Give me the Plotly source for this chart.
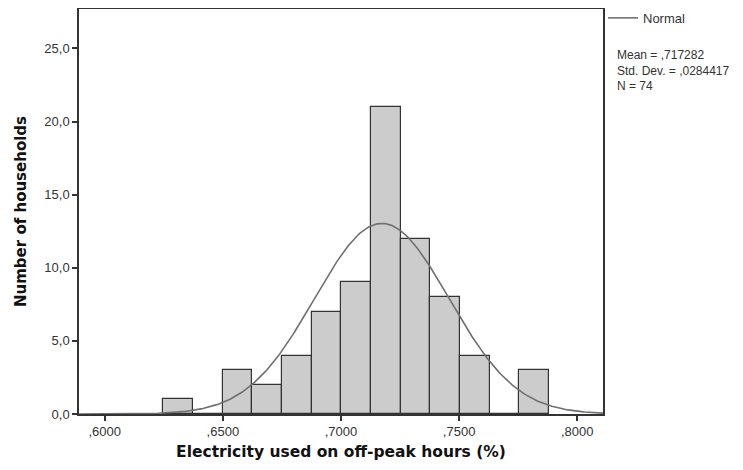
import numpy as np
import plotly.graph_objects as go

# Histogram data
bin_start = 0.6248
bin_width = 0.01256
counts = [1, 0, 3, 2, 4, 7, 9, 21, 12, 8, 4, 0, 3]

# Normal fit parameters (as printed)
mean = 0.717282
std_dev = 0.0284417
n_obs = 74

x_tick_vals = [0.60, 0.65, 0.70, 0.75, 0.80]
y_tick_vals = [0, 5, 10, 15, 20, 25]
x_range = [0.5891, 0.8109]
y_range = [0, 27.7]

x_tick_text = ["," + f"{v:.4f}".split(".")[1] for v in x_tick_vals]
y_tick_text = [f"{v:.1f}".replace(".", ",") for v in y_tick_vals]
stats_lines = [
    f"Mean = ,{f'{mean:.6f}'.split('.')[1]}",
    f"Std. Dev. = ,{f'{std_dev:.7f}'.split('.')[1]}",
    f"N = {n_obs}",
]

centers = [bin_start + bin_width * (i + 0.5) for i in range(len(counts))]

xs = np.linspace(x_range[0], x_range[1], 400)
ys = n_obs * bin_width / (std_dev * np.sqrt(2 * np.pi)) * np.exp(-0.5 * ((xs - mean) / std_dev) ** 2)

fig = go.Figure()
fig.add_trace(go.Bar(
    x=centers, y=counts, width=bin_width,
    marker=dict(color="#cccccc", line=dict(color="#333333", width=1.2)),
    showlegend=False, hoverinfo="x+y",
))
fig.add_trace(go.Scatter(
    x=xs, y=ys, mode="lines", name="Normal",
    line=dict(color="#707070", width=1.6),
))

axis_common = dict(
    showgrid=False, zeroline=False, showline=True, linecolor="#333333", linewidth=1.5,
    mirror=True, ticks="outside", ticklen=5, tickcolor="#333333", tickwidth=1.5,
    automargin=False,
    tickfont=dict(family="Liberation Sans, Arial, sans-serif", size=13, color="#333333"),
)

fig.update_layout(
    width=735, height=462,
    margin=dict(l=71, r=140, t=1, b=56, autoexpand=False),
    plot_bgcolor="white", paper_bgcolor="white",
    bargap=0,
    xaxis=dict(
        range=x_range, tickvals=x_tick_vals, ticktext=x_tick_text,
        title=dict(text="<b>Electricity used on off-peak hours (%)</b>", standoff=8,
                   font=dict(family="DejaVu Sans, sans-serif", size=15.5, color="#111111")),
        **axis_common,
    ),
    yaxis=dict(
        range=y_range, tickvals=y_tick_vals, ticktext=y_tick_text,
        title=dict(text="<b>Number of households</b>", standoff=14,
                   font=dict(family="DejaVu Sans, sans-serif", size=15, color="#111111")),
        **axis_common,
    ),
    legend=dict(
        x=1.0, xanchor="left", y=1.015, yanchor="top",
        font=dict(family="Liberation Sans, Arial, sans-serif", size=13, color="#333333"),
        bgcolor="rgba(0,0,0,0)", itemwidth=30, tracegroupgap=0,
    ),
    annotations=[dict(
        xref="paper", yref="paper", x=1.0, xshift=12, y=1.0, yshift=-61,
        xanchor="left", yanchor="middle", align="left", showarrow=False,
        text="<br>".join(stats_lines),
        font=dict(family="Liberation Sans, Arial, sans-serif", size=12, color="#333333"),
    )],
)

fig.write_html("out.html")
